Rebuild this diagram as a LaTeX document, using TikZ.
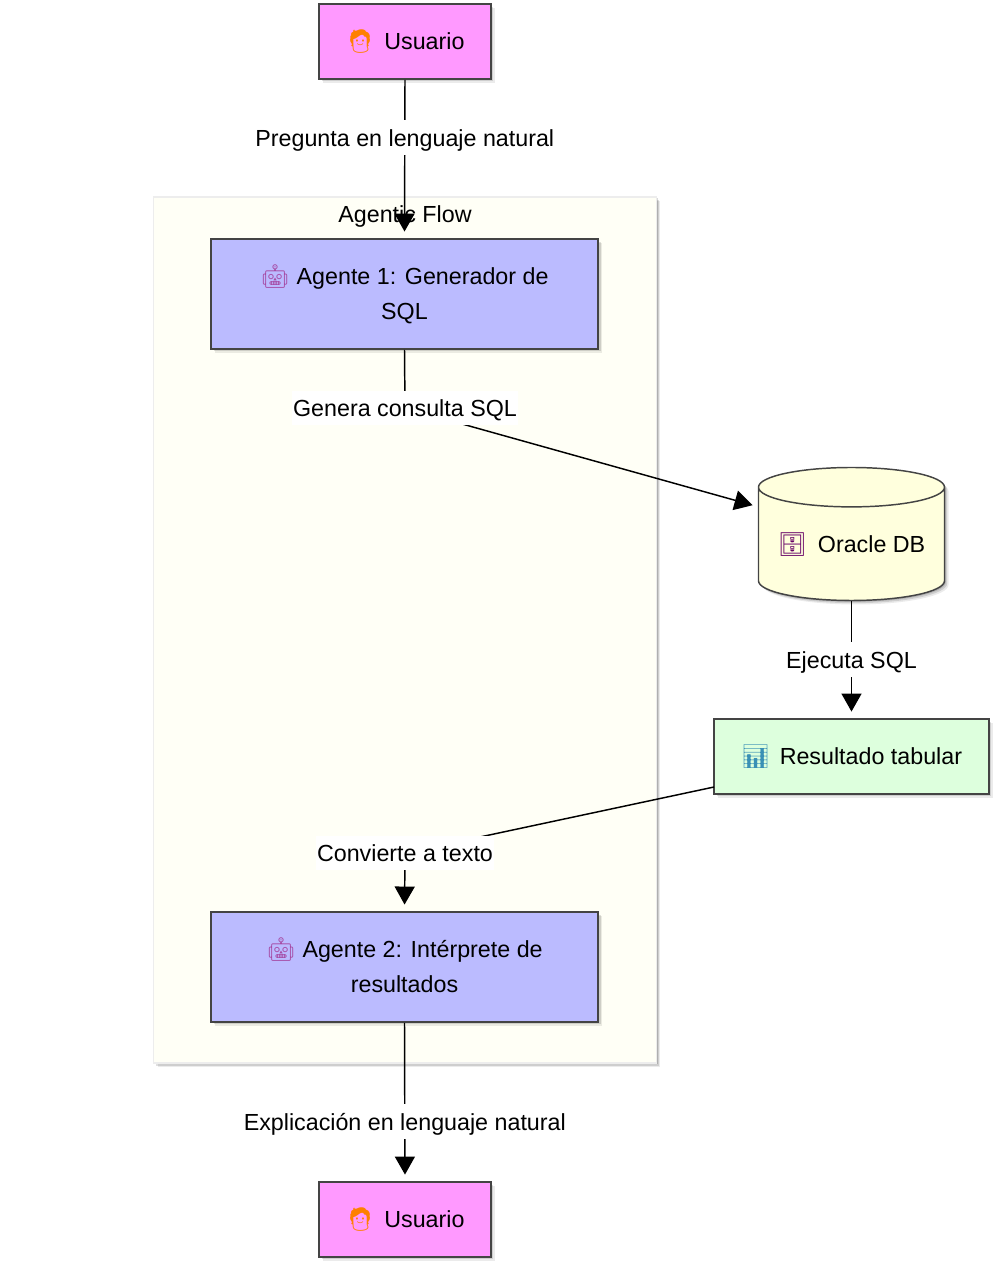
\documentclass[tikz,border=0pt]{standalone}
\usepackage{fontspec}
\setmainfont{Liberation Sans}
\newfontfamily\emojifont{Noto Emoji}
\usetikzlibrary{arrows.meta,shapes.geometric,shadows}
\definecolor{userfill}{HTML}{FF99FF}
\definecolor{agentfill}{HTML}{BBBBFF}
\definecolor{dbfill}{HTML}{FFFFDD}
\definecolor{resultfill}{HTML}{DDFFDD}
\definecolor{flowfill}{HTML}{FFFFF6}
\definecolor{boxborder}{HTML}{444444}
\newcommand{\emojiicon}[2]{{\emojifont\color{#1}#2}}
\begin{document}
\begin{tikzpicture}[
        x=0.75pt, y=-0.75pt,
        font=\fontsize{17.45}{26}\selectfont,
        softshadow/.style={
                drop shadow={shadow xshift=3pt, shadow yshift=-3pt, opacity=0.08, fill=black},
                drop shadow={shadow xshift=2pt, shadow yshift=-2pt, opacity=0.12, fill=black},
                drop shadow={shadow xshift=1pt, shadow yshift=-1pt, opacity=0.15, fill=black}},
        box/.style={draw=boxborder, line width=1.5pt, align=center, inner sep=0pt, softshadow},
        userbox/.style={box, fill=userfill, minimum width=128.6pt, minimum height=55.9pt},
        agentbox/.style={box, fill=agentfill, minimum width=290pt, minimum height=82.2pt},
        resultbox/.style={box, fill=resultfill, minimum width=205.9pt, minimum height=55.9pt},
        flowbox/.style={draw=black!7, line width=1pt, fill=flowfill, minimum width=377pt, minimum height=649.5pt, softshadow},
        dbnode/.style={cylinder, shape border rotate=90, shape aspect=0.267, draw=boxborder, line width=1.1pt, fill=dbfill, inner sep=0pt, minimum width=139.5pt, minimum height=99.75pt, softshadow},
        edgelabel/.style={fill=white, inner xsep=1pt, inner ysep=0pt, text height=19.7pt, text depth=6.3pt, text=black},
        flow/.style={draw=black, line width=1.1pt, -{Triangle[length=13.5pt, width=15pt]}, shorten >=5pt},
    ]

    % fondo y subgrafo
    \path[use as bounding box] (0,0) rectangle (1000,1264);
    \node[flowbox] (flow) at (405,630) {};
    \node[text height=19.7pt, text depth=6.3pt] (flowtitle) at (405,214) {Agentic Flow};

    % nodos
    \node[userbox] (user1) at (405,41.5) {\emojiicon{orange}{🧑}\hspace{7pt}Usuario};
    \node[agentbox] (agent1) at (404.5,294) {\strut\emojiicon{violet!70}{🤖}\hspace{5.5pt}\hspace{-0.5pt}Agente 1: Generador de\\\rule[-6.3pt]{0pt}{1pt}SQL};
    \node[dbnode] (db) at (851.5,544.2) {\emojiicon{violet!80!black}{🗄}\hspace{8pt}Oracle DB};
    \node[resultbox] (result) at (851.5,756.5) {\emojiicon{cyan!70!black}{📊}\hspace{7pt}Resultado tabular};
    \node[agentbox] (agent2) at (404.5,967) {\strut\emojiicon{violet!70}{🤖}\hspace{5pt}Agente 2: Intérprete de\\\rule[-6.3pt]{0pt}{1pt}resultados};
    \node[userbox] (user2) at (405,1219.5) {\emojiicon{orange}{🧑}\hspace{7pt}Usuario};

    % puntos de paso
    \coordinate (sqlbend) at (405,408);
    \coordinate (dbin) at (759,507);
    \coordinate (textbend) at (405,853);
    \coordinate (resultout) at (714,787);

    % conectores
    \draw[flow] (user1.south) -- (agent1.north)
    node[edgelabel, pos=0.366] (asklabel) {Pregunta en lenguaje natural};
    \draw[flow] (agent1.south) -- (sqlbend) -- (dbin);
    \node[edgelabel] (sqllabel) at (sqlbend) {Genera consulta SQL};
    \draw[flow] (db.south) -- (result.north)
    node[edgelabel, pos=0.5] (runlabel) {Ejecuta SQL};
    \draw[flow] (resultout) -- (textbend) -- (agent2.north);
    \node[edgelabel] (textlabel) at (textbend) {Convierte a texto};
    \draw[flow] (agent2.south) -- (user2.north)
    node[edgelabel, pos=0.622] (explainlabel) {Explicación en lenguaje natural};
\end{tikzpicture}
\end{document}
